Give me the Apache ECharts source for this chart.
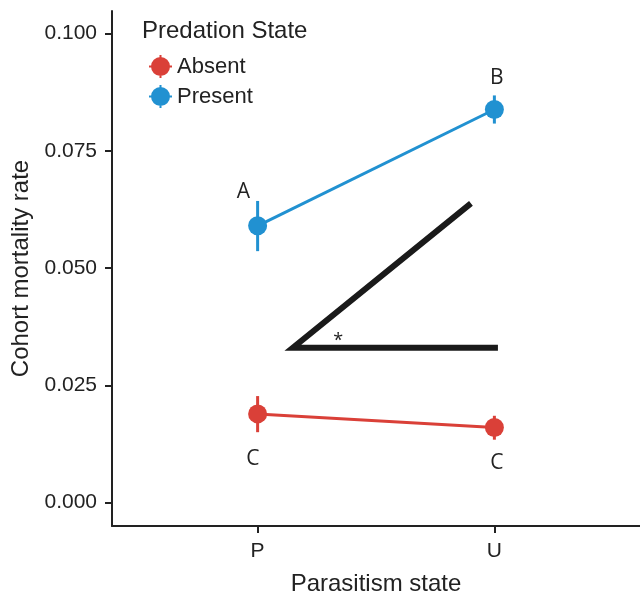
<!DOCTYPE html>
<html>
<head>
<meta charset="utf-8">
<script src="https://cdn.jsdelivr.net/npm/echarts@6/dist/echarts.min.js"></script>
<style>
  html, body { margin: 0; padding: 0; background: #fff; }
  #chart { width: 640px; height: 595px; }
</style>
</head>
<body>
<div id="chart"></div>
<script>
// parasitism state categories, placed at x = 1, 2
const categories = ['P', 'U'];
const catX = [1, 2];

// predation absent
const absentMean = [0.0189, 0.0160];
const absentLow = [0.0150, 0.0134];
const absentHigh = [0.0227, 0.0185];

// predation present
const presentMean = [0.0590, 0.0838];
const presentLow = [0.0536, 0.0808];
const presentHigh = [0.0643, 0.0868];

// significance letters
const letterText = ['A', 'B', 'C', 'C'];
const letterX = [0.94, 2.01, 0.98, 2.01];
const letterY = [0.0662, 0.0906, 0.0092, 0.0085];

// the interaction "angle" drawn on the plot, and its star
const angleX = [1.901, 1.149, 2.015];
const angleY = [0.0638, 0.0330, 0.0330];
const starX = [1.34];
const starY = [0.0344];

const yTicks = [0, 0.025, 0.05, 0.075, 0.1];

const RED = '#da4038';
const BLUE = '#2191d1';
const INK = '#222';
const FONT = "'Liberation Sans', Arial, Helvetica, sans-serif";
const LETTER_FONT = "'Open Sans', sans-serif";

const legendIcon = 'path://M2,11.5a9.5,9.5 0 1,1 19,0a9.5,9.5 0 1,1 -19,0Z M10.5,0h2v23h-2Z M0,10.5h23v2h-23Z';

function pairs(xs, ys) {
  return xs.map((x, i) => [x, ys[i]]);
}

function errorBars(name, color, lo, hi) {
  return {
    name: name + ' err',
    type: 'custom',
    z: 2,
    data: catX.map((x, i) => [x, lo[i], hi[i]]),
    renderItem: function(params, api) {
      const a = api.coord([api.value(0), api.value(1)]);
      const b = api.coord([api.value(0), api.value(2)]);
      return {
        type: 'line',
        shape: { x1: a[0], y1: a[1], x2: b[0], y2: b[1] },
        style: { stroke: color, lineWidth: 3 }
      };
    }
  };
}

const chart = echarts.init(document.getElementById('chart'));

chart.setOption({
  animation: false,
  textStyle: { fontFamily: FONT, color: INK },
  title: {
    text: 'Predation State',
    left: 137,
    top: 14,
    textStyle: { fontFamily: FONT, fontSize: 24, fontWeight: 'normal', color: INK }
  },
  legend: {
    orient: 'vertical',
    left: 144,
    top: 50,
    itemWidth: 23,
    itemHeight: 23,
    itemGap: 7,
    selectedMode: false,
    data: [
      { name: 'Absent', icon: legendIcon },
      { name: 'Present', icon: legendIcon }
    ],
    textStyle: { fontFamily: FONT, fontSize: 22, color: INK, padding: [0, 0, 0, 0] }
  },
  grid: { left: 112, right: 0, top: 11, bottom: 69, outerBoundsMode: 'none', containLabel: false },
  xAxis: {
    type: 'value',
    min: 0.385,
    max: 2.615,
    name: 'Parasitism state',
    nameLocation: 'middle',
    nameGap: 46,
    nameTextStyle: { fontFamily: FONT, fontSize: 24, color: INK },
    splitLine: { show: false },
    axisLine: { show: true, onZero: false, lineStyle: { color: INK, width: 2 } },
    axisTick: { show: true, length: 7, lineStyle: { color: INK, width: 2 }, customValues: catX },
    axisLabel: {
      customValues: catX,
      margin: 15,
      fontSize: 21,
      color: INK,
      formatter: v => categories[catX.indexOf(v)]
    }
  },
  yAxis: {
    type: 'value',
    min: -0.005,
    max: 0.1048,
    name: 'Cohort mortality rate',
    nameLocation: 'middle',
    nameRotate: 90,
    nameGap: 73,
    nameTextStyle: { fontFamily: FONT, fontSize: 24, color: INK },
    splitLine: { show: false },
    axisLine: { show: true, onZero: false, lineStyle: { color: INK, width: 2 } },
    axisTick: { show: true, length: 7, lineStyle: { color: INK, width: 2 }, customValues: yTicks },
    axisLabel: {
      customValues: yTicks,
      margin: 15,
      fontSize: 21,
      color: INK,
      formatter: v => v.toFixed(3)
    }
  },
  series: [
    {
      name: 'angle',
      type: 'line',
      data: pairs(angleX, angleY),
      symbol: 'none',
      z: 1,
      lineStyle: { color: '#1a1a1a', width: 6, join: 'miter', cap: 'butt' }
    },
    {
      name: 'star',
      type: 'scatter',
      data: pairs(starX, starY),
      symbolSize: 0,
      itemStyle: { opacity: 1 },
      label: {
        show: true, formatter: '*', position: 'inside',
        fontFamily: LETTER_FONT, fontSize: 18, color: INK
      }
    },
    errorBars('Absent', RED, absentLow, absentHigh),
    errorBars('Present', BLUE, presentLow, presentHigh),
    {
      name: 'Absent',
      type: 'line',
      data: pairs(catX, absentMean),
      symbol: 'circle',
      symbolSize: 19,
      z: 3,
      itemStyle: { color: RED },
      lineStyle: { color: RED, width: 3 }
    },
    {
      name: 'Present',
      type: 'line',
      data: pairs(catX, presentMean),
      symbol: 'circle',
      symbolSize: 19,
      z: 3,
      itemStyle: { color: BLUE },
      lineStyle: { color: BLUE, width: 3 }
    },
    {
      name: 'letters',
      type: 'scatter',
      data: letterX.map((x, i) => ({ value: [x, letterY[i]], label: { formatter: letterText[i] } })),
      symbolSize: 0,
      itemStyle: { opacity: 1 },
      label: {
        show: true, position: 'inside',
        fontFamily: LETTER_FONT, fontSize: 21, color: INK
      }
    }
  ]
});
</script>
</body>
</html>
